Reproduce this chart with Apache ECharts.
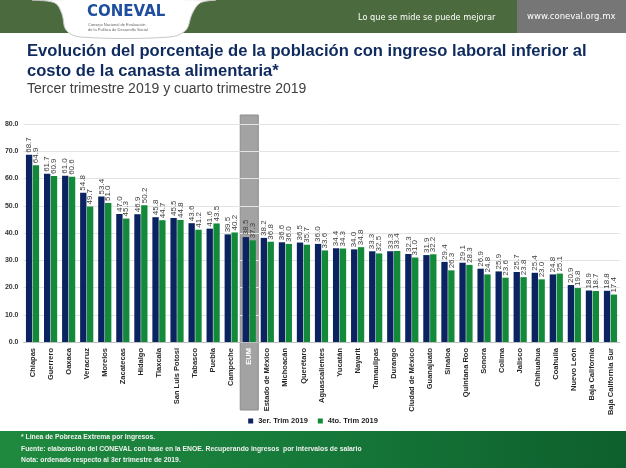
<!DOCTYPE html>
<html>
<head>
<meta charset="utf-8">
<script src="https://cdn.jsdelivr.net/npm/echarts@6/dist/echarts.min.js"></script>
<style>
html,body{margin:0;padding:0;background:#fff;}
#c{width:626px;height:468px;}
</style>
</head>
<body>
<div id="c"></div>
<script>
const categories = ['Chiapas','Guerrero','Oaxaca','Veracruz','Morelos','Zacatecas','Hidalgo','Tlaxcala','San Luis Potosí','Tabasco','Puebla','Campeche','EUM','Estado de México','Michoacán','Querétaro','Aguascalientes','Yucatán','Nayarit','Tamaulipas','Durango','Ciudad de México','Guanajuato','Sinaloa','Quintana Roo','Sonora','Colima','Jalisco','Chihuahua','Coahuila','Nuevo León','Baja California','Baja California Sur'];
const trim3 = [68.7,61.7,61.0,54.8,53.4,47.0,46.9,45.8,45.5,43.6,41.6,39.5,38.5,38.2,36.6,36.5,36.0,34.4,34.0,33.3,33.3,32.3,31.9,29.4,29.1,26.9,25.9,25.7,25.4,24.8,20.9,18.9,18.8];
const trim4 = [64.9,60.9,60.6,49.7,51.0,45.3,50.2,44.7,44.8,41.2,43.5,40.2,37.3,36.8,36.0,35.7,33.6,34.3,34.8,32.5,33.4,31.0,32.2,26.3,28.3,24.8,23.6,23.8,23.0,25.1,19.8,18.7,17.4];
const yTicks = {min:0, max:80, interval:10};
const seriesNames = ['3er. Trim 2019','4to. Trim 2019'];
const highlightCat = 'EUM';
const titleLines = ['Evolución del porcentaje de la población con ingreso laboral inferior al','costo de la canasta alimentaria*'];
const subtitle = 'Tercer trimestre 2019 y cuarto trimestre 2019';
const notes = ['* Línea de Pobreza Extrema por Ingresos.','Fuente: elaboración del CONEVAL con base en la ENOE. Recuperando ingresos  por intervalos de salario','Nota: ordenado respecto al 3er trimestre de 2019.'];

const NAVY = '#0b2461', GREEN = '#138a3a';
const chart = echarts.init(document.getElementById('c'));

const labelOpt = {
  show: true, position: 'top', rotate: 90, align: 'left', verticalAlign: 'middle',
  distance: 2, fontSize: 8, color: '#404040', fontFamily: 'Liberation Sans',
  formatter: p => p.value.toFixed(1)
};

const headerGraphics = [
  {type:'rect', shape:{x:0,y:0,width:517,height:33}, style:{fill:'#4b6b3e'}, z:10},
  {type:'rect', shape:{x:517,y:0,width:109,height:33}, style:{fill:'#767676'}, z:10},
  {type:'polygon', shape:{smooth:0.35, points:[[33,0],[55,3],[62,14],[66,30],[80,37],[170,37],[186,30],[192,14],[200,3],[215,0]]}, style:{fill:'#ffffff', stroke:'#c8c8c8', lineWidth:1}, z:11},
  {type:'text', x:87, y:12, style:{text:'CONEVAL', fill:'#1e4e9e', font:'bold 15px "DejaVu Sans"', textVerticalAlign:'middle'}, z:12},
  {type:'text', x:88, y:25, style:{text:'Consejo Nacional de Evaluación', fill:'#666', font:'4px "Liberation Sans"', textVerticalAlign:'middle'}, z:12},
  {type:'text', x:88, y:30, style:{text:'de la Política de Desarrollo Social', fill:'#666', font:'4px "Liberation Sans"', textVerticalAlign:'middle'}, z:12},
  {type:'text', x:358, y:18, style:{text:'Lo que se mide se puede mejorar', fill:'#ffffff', font:'8.2px "DejaVu Sans"', textVerticalAlign:'middle'}, z:12},
  {type:'text', x:527, y:17, style:{text:'www.coneval.org.mx', fill:'#ffffff', font:'8.5px "DejaVu Sans"', textVerticalAlign:'middle'}, z:12},
  {type:'text', x:27, y:51, style:{text:titleLines[0], fill:'#0e2a5e', font:'bold 16.6px "Liberation Sans"', textVerticalAlign:'middle'}, z:12},
  {type:'text', x:27, y:71, style:{text:titleLines[1], fill:'#0e2a5e', font:'bold 16.6px "Liberation Sans"', textVerticalAlign:'middle'}, z:12},
  {type:'text', x:27, y:89, style:{text:subtitle, fill:'#404040', font:'14px "Liberation Sans"', textVerticalAlign:'middle'}, z:12},
  {type:'rect', shape:{x:0,y:431,width:626,height:37}, style:{fill:{type:'linear',x:0,y:0,x2:1,y2:1,colorStops:[{offset:0,color:'#1f8a3e'},{offset:0.5,color:'#16793a'},{offset:1,color:'#0e5f2c'}]}}, z:10},
  {type:'text', x:21, y:437, style:{text:notes[0], fill:'#f0f0f0', font:'bold 6.8px "Liberation Sans"', textVerticalAlign:'middle'}, z:12},
  {type:'text', x:21, y:449, style:{text:notes[1], fill:'#f0f0f0', font:'bold 6.8px "Liberation Sans"', textVerticalAlign:'middle'}, z:12},
  {type:'text', x:21, y:460, style:{text:notes[2], fill:'#f0f0f0', font:'bold 6.8px "Liberation Sans"', textVerticalAlign:'middle'}, z:12}
];

const option = {
  animation: false,
  backgroundColor: '#ffffff',
  grid: {left: 23.5, right: 6.5, top: 124, bottom: 126, containLabel: false},
  legend: {
    data: seriesNames, bottom: 38, left: 'center', itemWidth: 5, itemHeight: 5, itemGap: 10,
    icon: 'rect', textStyle: {fontSize: 7.5, fontWeight: 'bold', color: '#222', fontFamily: 'Liberation Sans'}
  },
  xAxis: {
    type: 'category', data: categories,
    axisTick: {show: false},
    axisLine: {lineStyle: {color: '#bfbfbf'}},
    axisLabel: {
      interval: 0, rotate: 90, margin: 6,
      formatter: v => v === highlightCat ? '{e|' + v + '}' : '{n|' + v + '}',
      rich: {
        n: {fontSize: 7.5, fontWeight: 'bold', color: '#262626', fontFamily: 'Liberation Sans'},
        e: {fontSize: 7.5, fontWeight: 'bold', color: '#ffffff', fontFamily: 'Liberation Sans'}
      }
    }
  },
  yAxis: {
    type: 'value', min: yTicks.min, max: yTicks.max, interval: yTicks.interval,
    axisLabel: {formatter: v => v.toFixed(1), fontSize: 7, fontWeight: 'bold', color: '#333', margin: 5, fontFamily: 'Liberation Sans'},
    splitLine: {lineStyle: {color: '#e3e3e3'}},
    axisLine: {show: false}, axisTick: {show: false}
  },
  series: [
    {name: seriesNames[0], type: 'bar', data: trim3, itemStyle: {color: NAVY}, barGap: '8%', barCategoryGap: '27%', label: labelOpt},
    {name: seriesNames[1], type: 'bar', data: trim4, itemStyle: {color: GREEN}, label: labelOpt}
  ],
  graphic: headerGraphics
};
chart.setOption(option);

const idx = categories.indexOf(highlightCat);
const cx = chart.convertToPixel({xAxisIndex: 0}, idx);
const x0 = chart.convertToPixel({xAxisIndex: 0}, 0);
const x1 = chart.convertToPixel({xAxisIndex: 0}, 1);
const bw = x1 - x0;
chart.setOption({
  graphic: headerGraphics.concat([
    {type:'rect', shape:{x: cx - bw/2, y: 115, width: bw, height: 295}, style:{fill:'#a3a3a3', stroke:'#8c8c8c', lineWidth:1}, z:-10}
  ])
});
</script>
</body>
</html>
